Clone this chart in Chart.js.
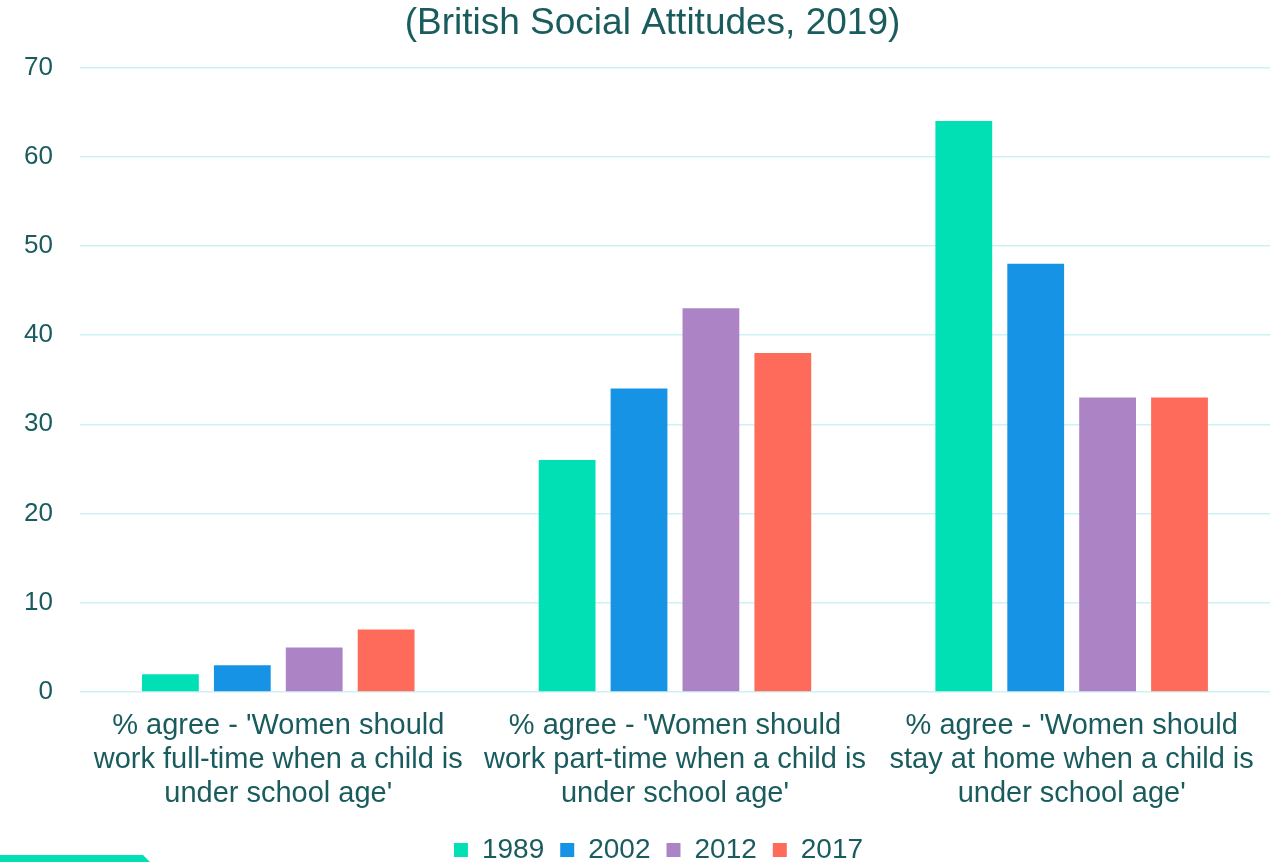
<!DOCTYPE html>
<html>
<head>
<meta charset="utf-8">
<script src="https://cdn.jsdelivr.net/npm/chart.js@4/dist/chart.umd.min.js"></script>
<style>
  html, body { margin: 0; padding: 0; background: #ffffff; }
  #wrap { position: relative; width: 1284px; height: 862px; }
  #deco { position: absolute; left: 0; top: 855px; width: 150px; height: 7px; background: #00E0B4;
          clip-path: polygon(0 0, 143px 0, 100% 100%, 0 100%); }
</style>
</head>
<body>
<div id="wrap">
  <canvas id="c" width="1284" height="862"></canvas>
  <div id="deco"></div>
</div>
<script>
const categories = [
  ["% agree - 'Women should", "work full-time when a child is", "under school age'"],
  ["% agree - 'Women should", "work part-time when a child is", "under school age'"],
  ["% agree - 'Women should", "stay at home when a child is", "under school age'"]
];
const seriesNames = ["1989", "2002", "2012", "2017"];
const values1989 = [2, 26, 64];
const values2002 = [3, 34, 48];
const values2012 = [5, 43, 33];
const values2017 = [7, 38, 33];
const seriesColors = ["#00E0B4", "#1793E6", "#AC84C6", "#FF6B5A"];
const titleText = "(British Social Attitudes, 2019)";

const textColor = "#1A5C5E";
const fontFamily = "'Liberation Sans', Arial, sans-serif";
const allValues = [values1989, values2002, values2012, values2017];

const shiftBoxes = {
  id: 'shiftBoxes',
  afterLayout(chart) {
    const t = chart.titleBlock;
    if (t) { t.left += 19; t.right += 19; }
    const l = chart.legend;
    if (l) { l.left += 25; l.right += 25; }
  }
};

new Chart(document.getElementById('c'), {
  type: 'bar',
  data: {
    labels: categories,
    datasets: seriesNames.map((n, i) => ({
      label: n,
      data: allValues[i],
      backgroundColor: seriesColors[i],
      borderWidth: 0,
      categoryPercentage: 0.725,
      barPercentage: 0.79
    }))
  },
  plugins: [shiftBoxes],
  options: {
    responsive: false,
    animation: false,
    layout: { padding: { left: -3, right: 14, top: 2, bottom: -12 } },
    plugins: {
      title: {
        display: true,
        text: titleText,
        color: textColor,
        font: { family: fontFamily, size: 37, weight: 'normal' },
        padding: { top: 0, bottom: 21 }
      },
      legend: {
        position: 'bottom',
        labels: {
          color: textColor,
          font: { family: fontFamily, size: 28 },
          boxWidth: 14,
          boxHeight: 14,
          padding: 16
        }
      },
      tooltip: { enabled: false }
    },
    scales: {
      x: {
        grid: { display: false },
        border: { display: false },
        ticks: {
          color: textColor,
          font: { family: fontFamily, size: 29, lineHeight: 34 / 29 },
          maxRotation: 0,
          autoSkip: false,
          padding: 9
        }
      },
      y: {
        min: 0, max: 70,
        ticks: {
          stepSize: 10,
          color: textColor,
          font: { family: fontFamily, size: 26 },
          padding: 27
        },
        grid: { color: '#CDF1F5', lineWidth: 1.5, drawTicks: false },
        border: { display: false }
      }
    }
  }
});
</script>
</body>
</html>
